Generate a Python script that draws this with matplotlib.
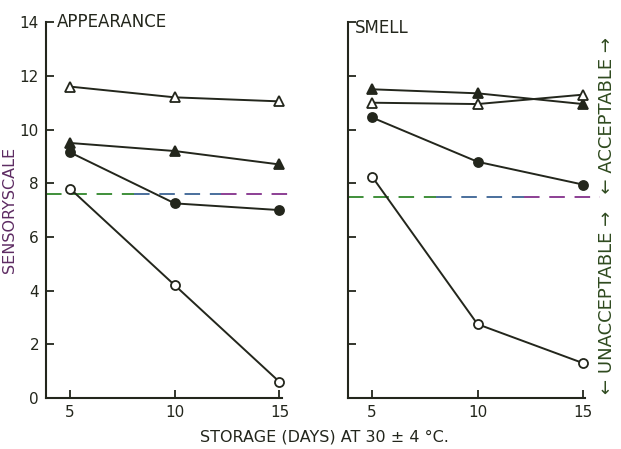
import matplotlib.pyplot as plt

INK = "#23261c"
DAYS = [5, 10, 15]

# appearance panel
app_open_tri = [11.6, 11.2, 11.05]
app_full_tri = [9.5, 9.2, 8.7]
app_full_circ = [9.15, 7.25, 7.0]
app_open_circ = [7.8, 4.2, 0.6]
app_limit = 7.6

# smell panel
sm_full_tri = [11.5, 11.35, 10.95]
sm_open_tri = [11.0, 10.95, 11.3]
sm_full_circ = [10.45, 8.8, 7.95]
sm_open_circ = [8.25, 2.75, 1.3]
sm_limit = 7.5

YTICKS = [0, 2, 4, 6, 8, 10, 12, 14]
XTICKS = [5, 10, 15]

plt.rcParams.update({"font.family": "DejaVu Sans", "text.color": INK})

fig = plt.figure(figsize=(6.21, 4.49), dpi=100)
ax1 = fig.add_axes([0.074, 0.1136, 0.403, 0.837])
ax2 = fig.add_axes([0.560, 0.1136, 0.406, 0.837])


def style(ax, labels):
    ax.set_xlim(3.85, 15.8)
    ax.set_ylim(0, 14)
    for s in ("top", "right"):
        ax.spines[s].set_visible(False)
    for s in ("left", "bottom"):
        ax.spines[s].set_color(INK)
        ax.spines[s].set_linewidth(1.5)
    ax.spines["bottom"].set_bounds(3.85, 15.1)
    ax.set_xticks(XTICKS)
    ax.set_yticks(YTICKS)
    ax.tick_params(direction="in", length=6, width=1.3, color=INK,
                   labelsize=11, labelcolor=INK, pad=5)
    if not labels:
        ax.set_yticklabels([])


def series(ax, y, marker, filled):
    ax.plot(DAYS, y, color=INK, lw=1.4, marker=marker, ms=7 if marker == "^" else 6.5,
            mfc=INK if filled else "white", mec=INK, mew=1.3, zorder=3, clip_on=False)


def limit(ax, y):
    cols = ["#3f8f3a", "#4a6f9c", "#8c3f94"]
    edges = [0.0, 0.35, 0.7, 1.0]
    for c, a, b in zip(cols, edges[:-1], edges[1:]):
        ax.axhline(y, xmin=a, xmax=b, color=c, lw=1.4, ls=(0, (8, 5)), zorder=2)


style(ax1, True)
series(ax1, app_open_tri, "^", False)
series(ax1, app_full_tri, "^", True)
series(ax1, app_full_circ, "o", True)
series(ax1, app_open_circ, "o", False)
limit(ax1, app_limit)
ax1.text(0.045, 1.0, "APPEARANCE", transform=ax1.transAxes, fontsize=12,
         va="center", ha="left")
ax1.set_ylabel("SENSORYSCALE", fontsize=11.5, color="#5e2c63", labelpad=2)

style(ax2, False)
series(ax2, sm_full_tri, "^", True)
series(ax2, sm_open_tri, "^", False)
series(ax2, sm_full_circ, "o", True)
series(ax2, sm_open_circ, "o", False)
limit(ax2, sm_limit)
ax2.text(0.03, 0.985, "SMELL", transform=ax2.transAxes, fontsize=12,
         va="center", ha="left")

fig.text(0.523, 0.027, "STORAGE (DAYS) AT 30 ± 4 °C.", fontsize=11.5,
         ha="center", va="center")
fig.text(0.978, 0.52, "← UNACCEPTABLE →   ← ACCEPTABLE →", fontsize=13,
         rotation=90, ha="center", va="center", color="#2f4a1f")

fig.savefig("out.png", dpi=100, facecolor="white")
